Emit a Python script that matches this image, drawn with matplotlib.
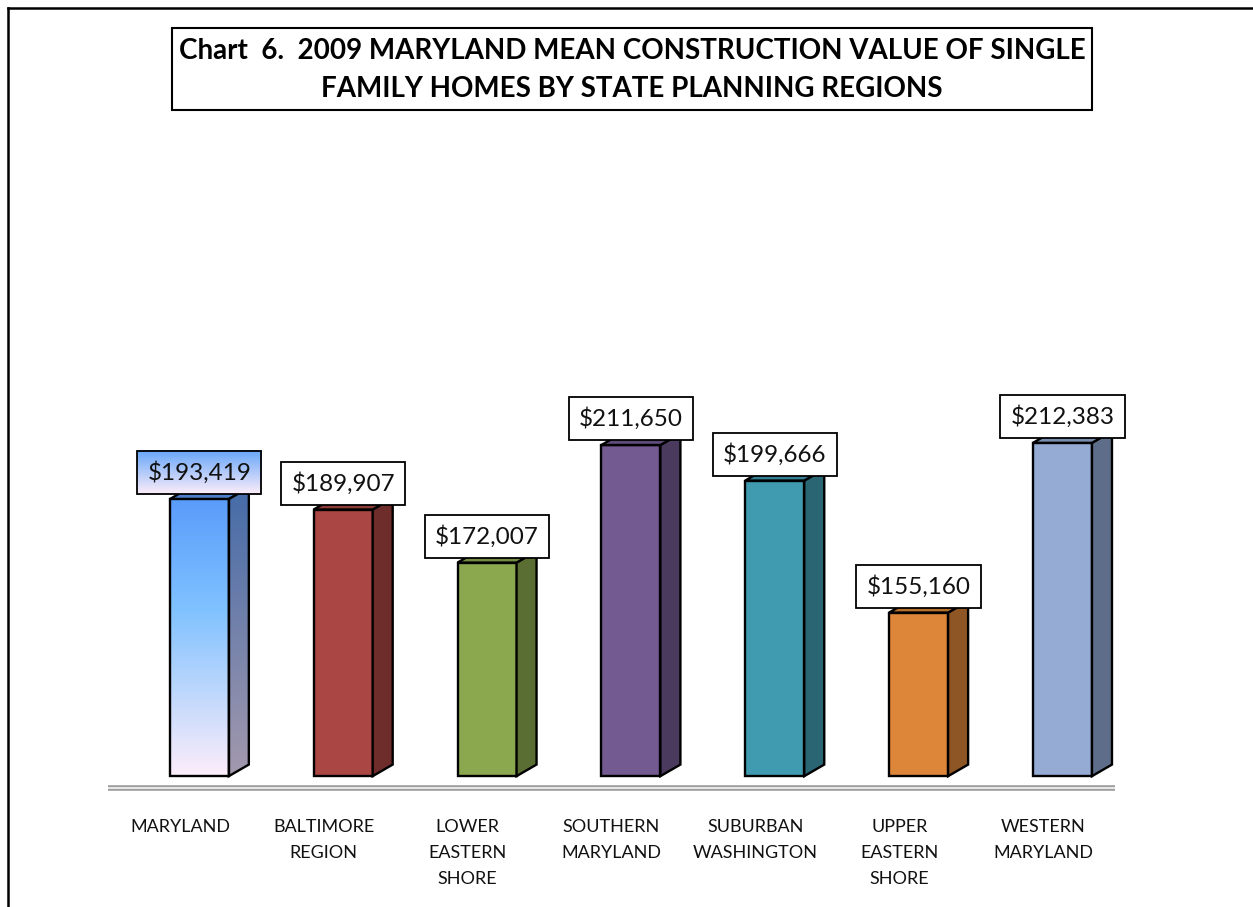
import numpy as np
import matplotlib.pyplot as plt
from matplotlib.patches import Polygon, Rectangle
from matplotlib.lines import Line2D

# Chart data
regions = ['MARYLAND', 'BALTIMORE\nREGION', 'LOWER\nEASTERN\nSHORE', 'SOUTHERN\nMARYLAND',
           'SUBURBAN\nWASHINGTON', 'UPPER\nEASTERN\nSHORE', 'WESTERN\nMARYLAND']
mean_value = [193419, 189907, 172007, 211650, 199666, 155160, 212383]
front_colors = ['#5b9cf9', '#aa4744', '#8ba84f', '#735a90', '#409bb0', '#dd8639', '#95abd4']
side_colors = ['#466ba8', '#6e2d2b', '#5a6d33', '#4a3a5e', '#2a6574', '#8f5625', '#5e6e8a']
top_colors = ['#4f7fcc', '#8b3a37', '#728a41', '#5e4a77', '#347f91', '#b86f2e', '#7a8cae']

title = 'Chart  6.  2009 MARYLAND MEAN CONSTRUCTION VALUE OF SINGLE\nFAMILY HOMES BY STATE PLANNING REGIONS'

plt.rcParams['font.family'] = ['Lato', 'DejaVu Sans']

W, H = 1253, 907
fig = plt.figure(figsize=(W / 100, H / 100), dpi=100)
ax = fig.add_axes([108 / W, 119 / H, 1007 / W, 605 / H])
ax.set_xlim(0, 7)
ax.set_ylim(96000, 300000)
ax.axis('off')

base = 100000
xs = np.arange(len(regions)) + 0.5
off = -0.07      # front face left edge relative to category centre
w = 0.41         # front face width
dx = 0.139       # depth, x units
dy = 3900        # depth, value units


def gradient_img(stops, n=200):
    pos = [s[0] for s in stops]
    cols = np.array([s[1] for s in stops])
    t = np.linspace(0, 1, n)
    img = np.stack([np.interp(t, pos, cols[:, k]) for k in range(3)], axis=1)
    return img[:, None, :]


bars = ax.bar(xs + off, np.array(mean_value) - base, bottom=base, width=w, align='edge',
              color=front_colors, edgecolor='black', linewidth=1.7, zorder=3)

for i, v in enumerate(mean_value):
    x0 = xs[i] + off
    x1 = x0 + w
    side = Polygon([(x1, base), (x1 + dx, base + dy), (x1 + dx, v + dy), (x1, v)],
                   closed=True, fc=side_colors[i], ec='black', lw=1.7, zorder=3)
    top = Polygon([(x0, v), (x1, v), (x1 + dx, v + dy), (x0 + dx, v + dy)],
                  closed=True, fc=top_colors[i], ec='black', lw=1.7, zorder=3)
    ax.add_patch(side)
    ax.add_patch(top)
    if i == 0:
        # gradient fill for the Maryland bar
        front_img = gradient_img([(0, (0.35, 0.61, 0.98)), (0.4, (0.50, 0.76, 1.0)),
                                  (1, (0.99, 0.93, 0.98))])
        im = ax.imshow(front_img, extent=(x0, x1, base, v), aspect='auto', origin='upper',
                       zorder=3.1, interpolation='bilinear')
        im.set_clip_path(bars[0])
        bars[0].set_facecolor('none')
        bars[0].set_zorder(3.2)
        side_img = gradient_img([(0, (0.27, 0.42, 0.66)), (1, (0.64, 0.60, 0.68))])
        im2 = ax.imshow(side_img, extent=(x1, x1 + dx, base, v + dy), aspect='auto',
                        origin='upper', zorder=3.1, interpolation='bilinear')
        im2.set_clip_path(side)
        side.set_facecolor('none')
        side.set_zorder(3.2)

# floor
ax.plot([0, 7], [96000, 96000], color='#9a9a9a', lw=4, solid_capstyle='butt', clip_on=False, zorder=2)
ax.plot([0, 7], [96000, 96000], color='#e6e6e6', lw=1.5, solid_capstyle='butt', clip_on=False, zorder=2)

# value labels
labels = []
for i, v in enumerate(mean_value):
    ann = ax.annotate(f'${v:,}', xy=(xs[i] + off + w / 2, v), xytext=(0, 19),
                      textcoords='offset points', ha='center', va='center', fontsize=17.5,
                      color='#111111',
                      bbox=dict(boxstyle='square,pad=0.42', fc='white', ec='black', lw=1.3),
                      zorder=10)
    labels.append(ann)

# category labels
for i, name in enumerate(regions):
    ax.annotate(name, xy=(xs[i], 0), xycoords=('data', 'axes fraction'), xytext=(0, -22),
                textcoords='offset points', ha='center', va='top', fontsize=13,
                linespacing=1.78, color='#111111')

# gradient behind the Maryland label
fig.canvas.draw()
patch = labels[0].get_bbox_patch()
bb = patch.get_window_extent().transformed(ax.transData.inverted())
patch.set_facecolor('none')
lab_img = gradient_img([(0, (0.40, 0.65, 0.98)), (1, (0.99, 0.93, 0.98))])
ax.imshow(lab_img, extent=(bb.x0, bb.x1, bb.y0, bb.y1), aspect='auto', origin='upper',
          zorder=9.5, interpolation='bilinear')
ax.set_xlim(0, 7)
ax.set_ylim(96000, 300000)

# title box
fig.add_artist(Rectangle((172 / W, 1 - 110 / H), 920 / W, 82 / H, transform=fig.transFigure,
                         fc='white', ec='black', lw=1.5))
fig.text(632 / W, 1 - 70 / H, title, ha='center', va='center', fontsize=20,
         fontweight='bold', linespacing=1.6)

# outer frame
fig.add_artist(Line2D([8 / W, 8 / W], [0, 1 - 8 / H], color='black', lw=1.8))
fig.add_artist(Line2D([8 / W, 1], [1 - 8 / H, 1 - 8 / H], color='black', lw=1.8))

fig.savefig('out.png', dpi=100)
